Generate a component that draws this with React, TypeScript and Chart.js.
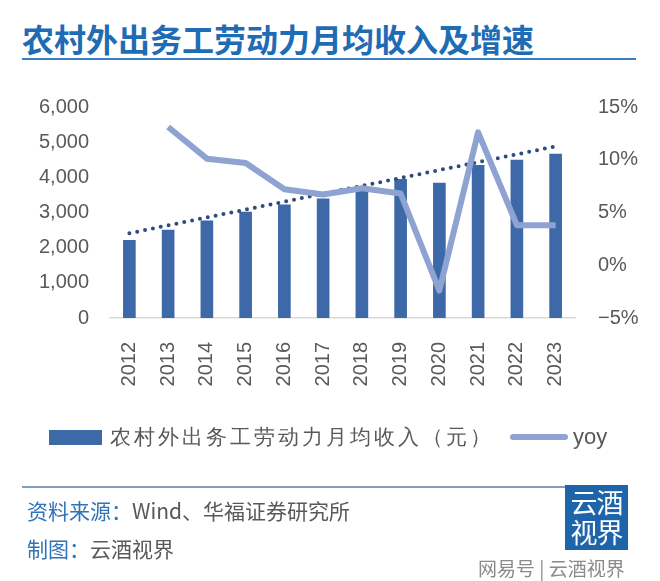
import React, { useEffect, useRef } from "react";
import { Chart, registerables } from "chart.js";

Chart.register(...registerables);

const years = ["2012", "2013", "2014", "2015", "2016", "2017", "2018", "2019", "2020", "2021", "2022", "2023"];
const income = [2210, 2500, 2760, 3010, 3220, 3390, 3650, 3940, 3840, 4340, 4490, 4660];
const yoy = [null, 13.1, 10.1, 9.7, 7.2, 6.7, 7.3, 6.8, -2.4, 12.6, 3.8, 3.8];
const trend = [2410, null, null, null, null, null, null, null, null, null, null, 4880];
const leftTicks = [0, 1000, 2000, 3000, 4000, 5000, 6000];
const rightTicks = [-5, 0, 5, 10, 15];

const BAR = "#3d69a8";
const LINE = "#8ea3d2";
const DOTS = "#2e4c7c";
const TICK = "#595959";
const CJK = '"Noto Sans CJK SC", "Noto Sans", sans-serif';

export default function App() {
  const ref = useRef<HTMLCanvasElement | null>(null);

  useEffect(() => {
    if (!ref.current) return;
    const chart = new Chart(ref.current, {
      type: "bar",
      data: {
        labels: years,
        datasets: [
          {
            type: "line",
            label: "yoy",
            data: yoy,
            yAxisID: "y1",
            borderColor: LINE,
            backgroundColor: LINE,
            borderWidth: 6,
            pointRadius: 0,
            tension: 0,
            borderJoinStyle: "round",
            order: 1,
          } as any,
          {
            type: "line",
            label: "trend",
            data: trend,
            yAxisID: "y",
            spanGaps: true,
            borderColor: DOTS,
            borderWidth: 4,
            borderDash: [0, 8],
            borderCapStyle: "round",
            pointRadius: 0,
            order: 2,
          } as any,
          {
            type: "bar",
            label: "农村外出务工劳动力月均收入（元）",
            data: income,
            yAxisID: "y",
            backgroundColor: BAR,
            barThickness: 12,
            order: 3,
          },
        ],
      },
      options: {
        responsive: false,
        animation: false,
        layout: { padding: { left: 0, right: 0, top: 107, bottom: 193 } },
        plugins: { legend: { display: false }, tooltip: { enabled: false } },
        scales: {
          x: {
            offset: true,
            grid: { display: false },
            border: { display: true, color: "#d9d9d9", width: 1.5 },
            ticks: {
              minRotation: 90,
              maxRotation: 90,
              padding: 16,
              color: TICK,
              font: { family: '"Liberation Sans", Arial, sans-serif', size: 20 },
            },
            afterFit: (s: any) => {
              s.height = 70;
            },
          },
          y: {
            position: "left",
            min: 0,
            max: 6000,
            afterBuildTicks: (s: any) => {
              s.ticks = leftTicks.map((v) => ({ value: v }));
            },
            grid: { display: false },
            border: { display: false },
            ticks: {
              padding: 13,
              color: TICK,
              font: { family: '"Liberation Sans", Arial, sans-serif', size: 20 },
              callback: (v: any) => Number(v).toLocaleString("en-US"),
            },
            afterFit: (s: any) => {
              s.width = 110;
            },
          },
          y1: {
            position: "right",
            min: -5,
            max: 15,
            afterBuildTicks: (s: any) => {
              s.ticks = rightTicks.map((v) => ({ value: v }));
            },
            grid: { display: false },
            border: { display: false },
            ticks: {
              padding: 15,
              color: TICK,
              font: { family: '"Liberation Sans", Arial, sans-serif', size: 20 },
              callback: (v: any) => (Number(v) < 0 ? "−" + Math.abs(Number(v)) : String(v)) + "%",
            },
            afterFit: (s: any) => {
              s.width = 85;
            },
          },
        },
      },
    });
    return () => chart.destroy();
  }, []);

  const abs = (o: React.CSSProperties): React.CSSProperties => ({ position: "absolute", margin: 0, whiteSpace: "nowrap", ...o });

  return (
    <div style={{ position: "absolute", left: 0, top: 0, width: 660, height: 581, background: "#fff", overflow: "hidden" }}>
      <div style={abs({ left: 22, top: 19, fontFamily: CJK, fontWeight: 700, fontSize: 32, lineHeight: "38px", color: "#1f6cb4" })}>
        农村外出务工劳动力月均收入及增速
      </div>
      <div style={abs({ left: 22, top: 58, width: 614, height: 2, background: "#3a7dc0" })} />
      <canvas ref={ref} width={660} height={581} style={{ position: "absolute", left: 0, top: 0, width: 660, height: 581 }} />
      {/* legend */}
      <div style={abs({ left: 49, top: 430, width: 53, height: 15, background: BAR })} />
      <div style={abs({ left: 110, top: 424, fontFamily: "serif", fontSize: 21, lineHeight: "26px", letterSpacing: 3, color: TICK })}>
        农村外出务工劳动力月均收入（元）
      </div>
      <div style={abs({ left: 510, top: 434, width: 58, height: 6, borderRadius: 3, background: LINE })} />
      <div style={abs({ left: 573, top: 424, fontFamily: '"Liberation Sans", Arial, sans-serif', fontSize: 22, lineHeight: "26px", color: TICK })}>
        yoy
      </div>
      {/* footer */}
      <div style={abs({ left: 22, top: 486, width: 543, height: 1.5, background: "#7f9fbf" })} />
      <div style={abs({ left: 27, top: 497, fontFamily: CJK, fontSize: 21, lineHeight: "26px", color: TICK })}>
        <span style={{ color: "#2f73b8" }}>资料来源：</span>Wind、华福证券研究所
      </div>
      <div style={abs({ left: 27, top: 535, fontFamily: CJK, fontSize: 21, lineHeight: "26px", color: TICK })}>
        <span style={{ color: "#2f73b8" }}>制图：</span>云酒视界
      </div>
      <div style={abs({ left: 565, top: 485, width: 63, height: 65, background: "#1e64aa", color: "#fff", fontFamily: CJK, fontSize: 27, lineHeight: "30px", textAlign: "center", paddingTop: 2, boxSizing: "border-box", letterSpacing: -1 })}>
        云酒
        <br />
        视界
      </div>
      <div style={abs({ left: 478, top: 556, fontFamily: CJK, fontSize: 19, lineHeight: "24px", color: "#8a8a8a" })}>
        网易号 | 云酒视界
      </div>
    </div>
  );
}
